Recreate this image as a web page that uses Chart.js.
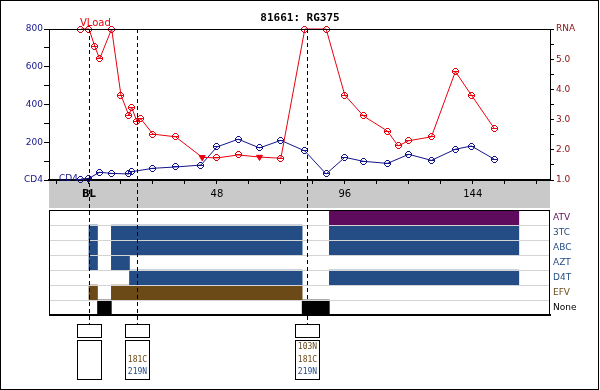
<!DOCTYPE html>
<html>
<head>
<meta charset="utf-8">
<script src="https://cdn.jsdelivr.net/npm/chart.js@4/dist/chart.umd.min.js"></script>
<style>
  html, body { margin: 0; padding: 0; background: #fff; }
  #wrap { position: relative; width: 600px; height: 390px; }
  #wrap canvas { position: absolute; left: 0; top: 0; }
  #frame { position: absolute; left: 0; top: 0; width: 599px; height: 390px; box-sizing: border-box; border: 1px solid #000; pointer-events: none; }
</style>
</head>
<body>
<div id="wrap">
  <canvas id="rx" width="600" height="390"></canvas>
  <canvas id="labs" width="600" height="390"></canvas>
  <div id="frame"></div>
</div>
<script>
// weeks axis
const weekTicks = [-12, 0, 12, 24, 36, 48, 60, 72, 84, 96, 108, 120, 132, 144, 156, 168];
const labelledWeeks = [0, 48, 96, 144];
const labelledText = ['BL', '48', '96', '144'];

// viral load (log10 RNA, capped at 6) and CD4
const vloadWeeks = [-3, 0, 2.25, 4, 8.5, 12, 15, 16, 18, 19.5, 24, 32.5, 42.5, 48, 56, 64, 72, 81, 89, 96, 103, 112, 116, 120, 128.5, 137.5, 143.5, 152];
const vloadLog = [6, 6, 5.41, 5.01, 6, 3.81, 3.13, 3.41, 2.93, 3.02, 2.52, 2.43, 1.75, 1.73, 1.83, 1.76, 1.72, 6, 6, 3.81, 3.12, 2.62, 2.13, 2.30, 2.43, 4.59, 3.81, 2.72];
const vloadBelowWeeks = [42.5, 64];
const cd4Weeks = [-3, 0, 4, 8.5, 15, 16, 24, 32.5, 42, 48, 56, 64, 72, 81, 89, 96, 103, 112, 120, 128.5, 137.5, 143.5, 152];
const cd4Count = [5, 9, 41, 35, 32, 44, 62, 69, 79, 175, 216, 170, 210, 154, 32, 120, 99, 88, 136, 104, 163, 180, 111];

// treatment history
const drugs = ['ATV', '3TC', 'ABC', 'AZT', 'D4T', 'EFV', 'None'];
const atvPeriods = [[90.2, 161.3]];
const tc3Periods = [[0, 3.2], [8.4, 80], [90.2, 161.3]];
const abcPeriods = [[0, 3.2], [8.4, 80], [90.2, 161.3]];
const aztPeriods = [[0, 3.2], [8.4, 15.2]];
const d4tPeriods = [[15.2, 80], [90.2, 161.3]];
const efvPeriods = [[0, 3.2], [8.4, 80]];
const nonePeriods = [[3.2, 8.4], [80, 90.2]];
const drugPeriods = [atvPeriods, tc3Periods, abcPeriods, aztPeriods, d4tPeriods, efvPeriods, nonePeriods];

// genotypes
const genoWeeks = [0, 18, 82];
const genoMutations = [[], ['181C', '219N'], ['103N', '181C', '219N']];
const nnrtiMutations = ['103N', '181C'];

const RED = '#e8000e';
const NAVY = '#14148c';
const MAROON = '#8a1010';
const PURPLE = '#5e0b5e';
const BLUE = '#244d85';
const BROWN = '#6b4a18';
const drugColors = [PURPLE, BLUE, BLUE, BLUE, BLUE, BROWN, '#000'];
const SANS = 'DejaVu Sans';
const MONO = 'DejaVu Sans Mono';

const plotLeft = 49, plotRight = 550, plotBottom = 180, bandHeight = 28;
const boxTop = 324;

// small pixel marker: ring with a bar through the middle
const markerRows = ['..###..', '.#...#.', '#.....#', '#######', '#.....#', '.#...#.', '..###..'];
function makeMarker(color) {
  const c = document.createElement('canvas');
  c.width = 7; c.height = 7;
  const g = c.getContext('2d');
  g.fillStyle = color;
  markerRows.forEach((row, y) => {
    for (let x = 0; x < row.length; x++) if (row[x] === '#') g.fillRect(x, y, 1, 1);
  });
  return c;
}
const redMark = makeMarker(RED);
const blueMark = makeMarker(NAVY);
const isBelow = (ctx) => ctx.raw && vloadBelowWeeks.includes(ctx.raw.x);

const labPlugin = {
  id: 'labPlugin',
  beforeDraw(chart) {
    const { ctx, chartArea: a } = chart;
    ctx.save();
    ctx.fillStyle = '#c9c9c9';
    ctx.fillRect(a.left, a.bottom, a.right - a.left, bandHeight);
    ctx.restore();
  },
  beforeDatasetsDraw(chart) {
    const { ctx } = chart;
    ctx.imageSmoothingEnabled = false;
    const red0 = chart.getDatasetMeta(0).data[0];
    const blue0 = chart.getDatasetMeta(1).data[0];
    ctx.save();
    ctx.font = '10px ' + SANS;
    ctx.fillStyle = RED;
    ctx.textAlign = 'left';
    ctx.textBaseline = 'alphabetic';
    ctx.fillText('VLoad', red0.x - 1, red0.y - 3);
    ctx.font = '9px ' + SANS;
    ctx.fillStyle = NAVY;
    ctx.textAlign = 'right';
    ctx.textBaseline = 'middle';
    ctx.fillText('CD4', blue0.x - 3, blue0.y);
    ctx.restore();
  },
  afterDraw(chart) {
    const { ctx, chartArea: a, scales } = chart;
    ctx.save();
    ctx.strokeStyle = '#000';
    ctx.lineWidth = 1;
    ctx.beginPath();
    ctx.moveTo(a.left, a.top + 0.5);
    ctx.lineTo(a.right, a.top + 0.5);
    ctx.stroke();
    ctx.setLineDash([4, 3]);
    genoWeeks.forEach((w) => {
      const x = Math.round(scales.x.getPixelForValue(w)) + 0.5;
      ctx.beginPath();
      ctx.moveTo(x, a.top);
      ctx.lineTo(x, boxTop);
      ctx.stroke();
    });
    ctx.restore();
  }
};

new Chart(document.getElementById('labs'), {
  type: 'line',
  data: {
    datasets: [
      {
        label: 'VLoad',
        data: vloadWeeks.map((w, i) => ({ x: w, y: vloadLog[i] })),
        yAxisID: 'yR',
        borderColor: RED,
        borderWidth: 1,
        pointStyle: (ctx) => isBelow(ctx) ? 'triangle' : redMark,
        rotation: (ctx) => isBelow(ctx) ? 180 : 0,
        pointRadius: 3.5,
        pointBackgroundColor: RED,
        pointBorderColor: RED,
        pointBorderWidth: 1,
        clip: false
      },
      {
        label: 'CD4',
        data: cd4Weeks.map((w, i) => ({ x: w, y: cd4Count[i] })),
        yAxisID: 'y',
        borderColor: NAVY,
        borderWidth: 1,
        pointStyle: blueMark,
        pointRadius: 3.5,
        clip: false
      }
    ]
  },
  options: {
    responsive: false,
    animation: false,
    events: [],
    elements: { line: { tension: 0 } },
    layout: { padding: { left: 0, right: 0, top: 0, bottom: 390 - plotBottom - bandHeight } },
    plugins: {
      legend: { display: false },
      tooltip: { enabled: false },
      title: {
        display: true,
        text: '81661: RG375',
        color: '#000',
        font: { family: MONO, size: 11, weight: 'bold' },
        padding: { top: 12, bottom: 3.8 }
      }
    },
    scales: {
      x: {
        type: 'linear',
        min: -15,
        max: 173,
        z: 1,
        afterBuildTicks: (s) => { s.ticks = weekTicks.map((v) => ({ value: v })); },
        afterFit: (s) => { s.height = bandHeight; },
        grid: { drawOnChartArea: false, tickLength: 4, color: '#000' },
        border: { color: '#000', width: 2 },
        ticks: {
          autoSkip: false,
          maxRotation: 0,
          padding: 4,
          color: '#000',
          font: (ctx) => ({ family: SANS, size: 10, weight: ctx.tick && ctx.tick.value === 0 ? 'bold' : 'normal' }),
          callback: (v) => {
            const i = labelledWeeks.indexOf(v);
            return i < 0 ? '' : labelledText[i];
          }
        }
      },
      y: {
        position: 'left',
        min: 0,
        max: 800,
        afterFit: (s) => { s.width = plotLeft; },
        grid: { drawOnChartArea: false, tickLength: 5, color: '#000' },
        border: { color: '#000', width: 1 },
        ticks: {
          stepSize: 100,
          autoSkip: false,
          padding: 1,
          color: NAVY,
          font: { family: SANS, size: 9 },
          callback: (v) => v === 0 ? 'CD4' : (v % 200 === 0 ? String(v) : '')
        }
      },
      yR: {
        position: 'right',
        min: 1,
        max: 6,
        afterFit: (s) => { s.width = 600 - plotRight; },
        grid: { drawOnChartArea: false, tickLength: 4, color: '#000' },
        border: { color: '#000', width: 1 },
        ticks: {
          stepSize: 0.5,
          autoSkip: false,
          padding: 2,
          color: MAROON,
          font: { family: SANS, size: 9 },
          callback: (v) => v === 6 ? 'RNA' : (Number.isInteger(v) ? v.toFixed(1) : '')
        }
      }
    }
  },
  plugins: [labPlugin]
});

const rxPlugin = {
  id: 'rxPlugin',
  afterDraw(chart) {
    const { ctx, chartArea: a, scales } = chart;
    ctx.save();
    ctx.strokeStyle = '#000';
    ctx.lineWidth = 1;
    ctx.strokeRect(a.left + 0.5, a.top + 0.5, a.right - a.left - 1, a.bottom - a.top);
    ctx.lineWidth = 2;
    ctx.beginPath();
    ctx.moveTo(a.left, a.bottom);
    ctx.lineTo(a.right + 1, a.bottom);
    ctx.stroke();
    ctx.lineWidth = 1;
    ctx.font = '8px ' + MONO;
    ctx.textAlign = 'center';
    ctx.textBaseline = 'middle';
    genoWeeks.forEach((w, i) => {
      const cx = Math.round(scales.x.getPixelForValue(w)) + 0.5;
      ctx.strokeStyle = '#000';
      ctx.strokeRect(cx - 12, boxTop + 0.5, 24, 13);
      ctx.strokeRect(cx - 12, boxTop + 16.5, 24, 39);
      const list = genoMutations[i];
      list.forEach((m, j) => {
        ctx.fillStyle = nnrtiMutations.includes(m) ? BROWN : BLUE;
        ctx.fillText(m, cx, 372 - (list.length - 1 - j) * 12.5);
      });
    });
    ctx.restore();
  }
};

new Chart(document.getElementById('rx'), {
  type: 'bar',
  data: {
    labels: drugs,
    datasets: drugs.map((d, i) => ({
      label: d,
      data: drugPeriods[i].map((p) => ({ x: p, y: d })),
      backgroundColor: drugColors[i],
      borderWidth: 0,
      grouped: false,
      barPercentage: 1,
      categoryPercentage: 1
    }))
  },
  options: {
    indexAxis: 'y',
    responsive: false,
    animation: false,
    events: [],
    layout: { padding: { left: plotLeft, right: 0, top: 210, bottom: 75 } },
    plugins: { legend: { display: false }, tooltip: { enabled: false } },
    scales: {
      x: { type: 'linear', min: -15, max: 173, display: false },
      y: {
        type: 'category',
        position: 'right',
        offset: true,
        afterFit: (s) => { s.width = 600 - plotRight; },
        grid: { offset: true, color: '#d4d4d4', drawTicks: false, z: 1 },
        border: { display: false },
        ticks: {
          padding: 3,
          color: (ctx) => drugColors[ctx.index],
          font: { family: SANS, size: 9 }
        }
      }
    }
  },
  plugins: [rxPlugin]
});
</script>
</body>
</html>
